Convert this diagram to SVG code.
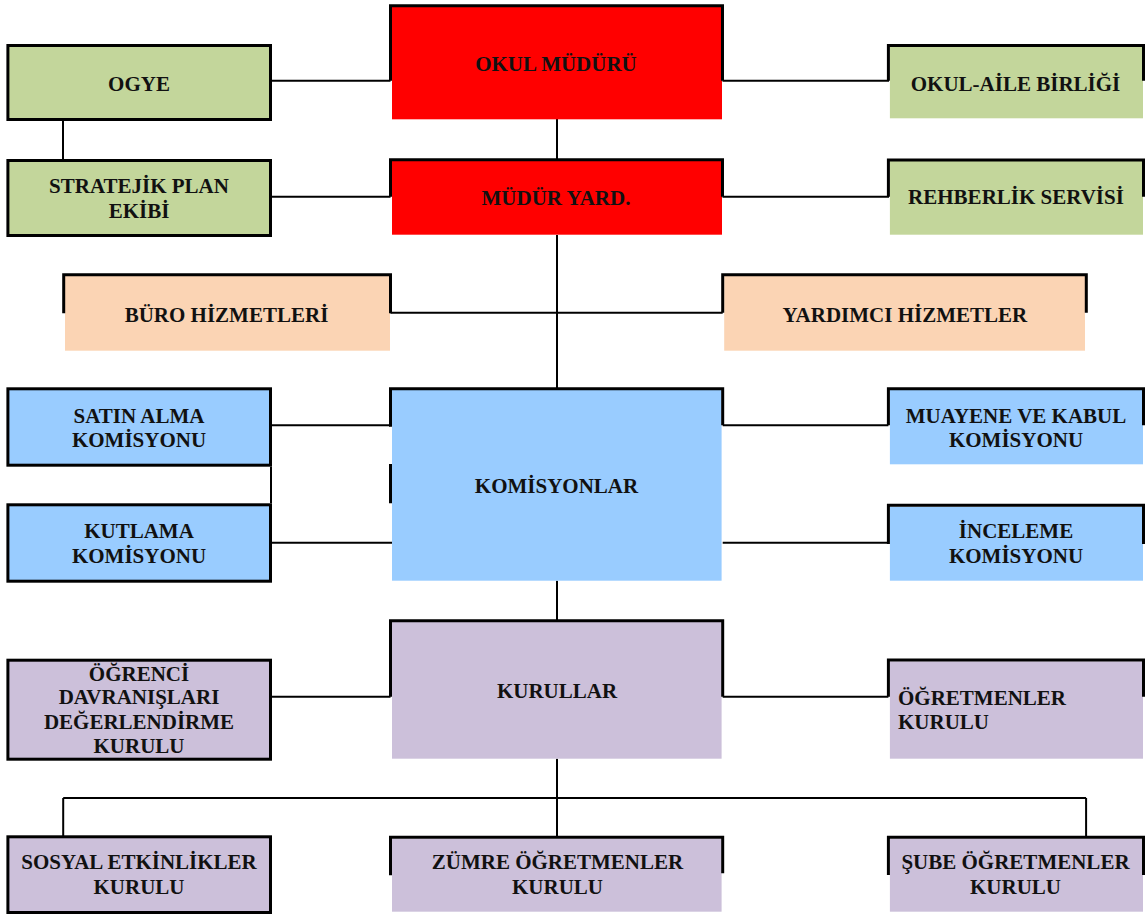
<svg xmlns="http://www.w3.org/2000/svg" width="1145" height="915" viewBox="0 0 1145 915">
<style>
text{font-family:"Liberation Serif","Times New Roman",serif;font-weight:bold;font-size:21px;fill:#111;text-anchor:middle}
.l{text-anchor:start}
.bd{fill:none;stroke:#000;stroke-width:3}
.cn path{fill:none;stroke:#000;stroke-width:2}
.g{fill:#C3D69B}.r{fill:#FF0000}.p{fill:#FBD4B4}.b{fill:#99CCFF}.v{fill:#CCC0DA}
.full{stroke:#000;stroke-width:3}
</style>
<rect width="1145" height="915" fill="#fff"/>
<g class="cn">
<path d="M272,80.7H390.5"/>
<path d="M63,121V159"/>
<path d="M272,196.7H390.5"/>
<path d="M722.5,80.7H889"/>
<path d="M722.5,196.7H889"/>
<path d="M557,119V159"/>
<path d="M557,235V388"/>
<path d="M390.5,312.7H722.7"/>
<path d="M272,425.3H390.5"/>
<path d="M271,466.7V503.3"/>
<path d="M272,542.7H392"/>
<path d="M722.7,425.3H888.4"/>
<path d="M722.7,542.7H888.4"/>
<path d="M557,580.7V620"/>
<path d="M272,696.7H390.5"/>
<path d="M722.7,696.7H888.4"/>
<path d="M557,758.7V836"/>
<path d="M63.2,798H1086.1M63.2,798V836M1086.1,798V836"/>
</g>
<g id="ogye"><rect class="g full" x="7.9" y="45.5" width="262.6" height="74"/><text x="139" y="90.7">OGYE</text></g>
<g id="stratejik"><rect class="g full" x="7.9" y="160.5" width="262.6" height="75"/><text x="139" y="193.3">STRATEJİK PLAN</text><text x="139" y="218.3">EKİBİ</text></g>
<g id="okul-muduru"><rect class="r" x="392" y="7" width="330" height="112.3"/><path class="bd" d="M390.5,80.7V5.8H722.5V80.7"/><text x="556" y="70.7">OKUL MÜDÜRÜ</text></g>
<g id="mudur-yard"><rect class="r" x="392" y="161" width="330" height="73.7"/><path class="bd" d="M390.5,196.7V159.8H722.5V196.7"/><text x="556" y="205">MÜDÜR YARD.</text></g>
<g id="okul-aile"><rect class="g" x="889.9" y="47" width="253.1" height="71.3"/><path class="bd" d="M888.4,80.7V45.5H1143.5V80.7"/><text x="1015.5" y="90.7">OKUL-AİLE BİRLİĞİ</text></g>
<g id="rehberlik"><rect class="g" x="889.9" y="161" width="253.1" height="73.7"/><path class="bd" d="M888.4,196.7V160H1143.5V196.7"/><text x="1016" y="204">REHBERLİK SERVİSİ</text></g>
<g id="buro"><rect class="p" x="65" y="276" width="325" height="74.7"/><path class="bd" d="M63.7,313.3V274.7H390.5V313.3"/><text x="226.5" y="321.7">BÜRO HİZMETLERİ</text></g>
<g id="yardimci"><rect class="p" x="724.2" y="276" width="360.8" height="74.7"/><path class="bd" d="M722.7,312.7V274.7H1086.3V312.7"/><text x="904.8" y="321.7">YARDIMCI HİZMETLER</text></g>
<g id="satin-alma"><rect class="b full" x="7.9" y="388.8" width="262.6" height="76.4"/><text x="139" y="423.3">SATIN ALMA</text><text x="139" y="447.3">KOMİSYONU</text></g>
<g id="kutlama"><rect class="b full" x="7.9" y="504.8" width="262.6" height="76.4"/><text x="139" y="538.3">KUTLAMA</text><text x="139" y="562.7">KOMİSYONU</text></g>
<g id="komisyonlar"><rect class="b" x="392" y="390" width="329.6" height="190.7"/><path class="bd" d="M390.5,426.7V388.7H722.7V425.3M390.5,464V503.3"/><text x="556.5" y="492.7">KOMİSYONLAR</text></g>
<g id="muayene"><rect class="b" x="889.9" y="390" width="253.1" height="74.3"/><path class="bd" d="M888.4,425.3V388.7H1143.5V425.3"/><text x="1016" y="422.7">MUAYENE VE KABUL</text><text x="1016" y="447.3">KOMİSYONU</text></g>
<g id="inceleme"><rect class="b" x="889.9" y="506.7" width="253.1" height="74"/><path class="bd" d="M888.4,544V505.3H1143.5V544"/><text x="1016" y="538.3">İNCELEME</text><text x="1016" y="562.7">KOMİSYONU</text></g>
<g id="ogrenci"><rect class="v full" x="7.9" y="660.2" width="262.6" height="99"/><text x="139" y="681">ÖĞRENCİ</text><text x="139" y="704.3">DAVRANIŞLARI</text><text x="139" y="729.3">DEĞERLENDİRME</text><text x="139" y="753.3">KURULU</text></g>
<g id="kurullar"><rect class="v" x="392" y="622" width="329.6" height="136.7"/><path class="bd" d="M390.5,696.7V620.7H722.7V696.7"/><text x="557" y="698">KURULLAR</text></g>
<g id="ogretmenler"><rect class="v" x="889.9" y="661.3" width="253.1" height="97.4"/><path class="bd" d="M888.4,696.7V660H1143.5V696.7"/><text class="l" x="898" y="705">ÖĞRETMENLER</text><text class="l" x="898" y="729.3">KURULU</text></g>
<g id="sosyal"><rect class="v full" x="7.9" y="836.8" width="262.6" height="75.7"/><text x="139" y="869.3">SOSYAL ETKİNLİKLER</text><text x="139" y="894">KURULU</text></g>
<g id="zumre"><rect class="v" x="392" y="838.7" width="329.6" height="73"/><path class="bd" d="M390.5,875.3V837.3H722.7V873.3"/><text x="557.5" y="869.3">ZÜMRE ÖĞRETMENLER</text><text x="557.5" y="894">KURULU</text></g>
<g id="sube"><rect class="v" x="889.9" y="838.7" width="253.1" height="73"/><path class="bd" d="M888.4,875V837.3H1143.5V875"/><text x="1015.5" y="869.3">ŞUBE ÖĞRETMENLER</text><text x="1015.5" y="894">KURULU</text></g>
</svg>
